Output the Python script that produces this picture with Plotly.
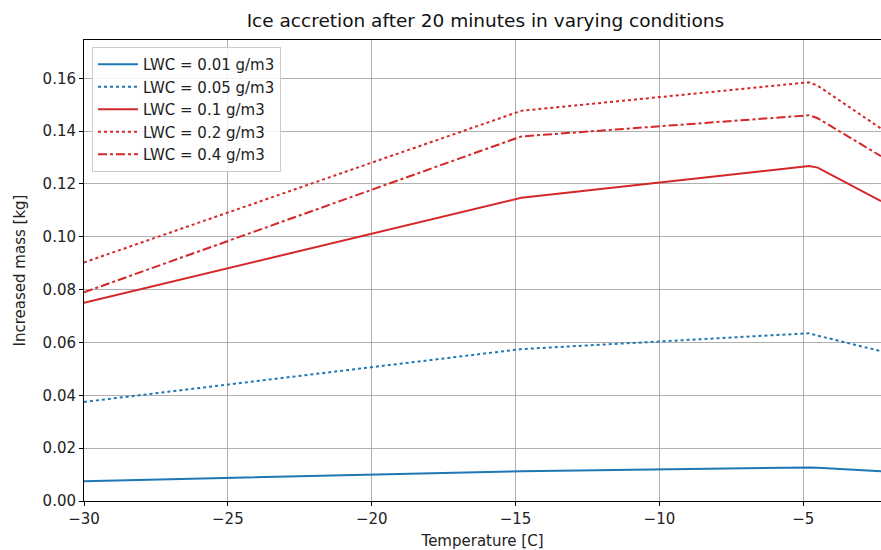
import plotly.graph_objects as go

temps = [-30, -14.8, -4.8, -4.5, -2.3]
lwc_labels = ["LWC = 0.01 g/m3", "LWC = 0.05 g/m3", "LWC = 0.1 g/m3", "LWC = 0.2 g/m3", "LWC = 0.4 g/m3"]
m_001 = [0.0075, 0.0113, 0.0127, 0.0126, 0.0113]
m_005 = [0.0375, 0.0575, 0.0635, 0.0626, 0.0567]
m_01 = [0.075, 0.1148, 0.1268, 0.1262, 0.1135]
m_02 = [0.0903, 0.1477, 0.1585, 0.1572, 0.1410]
m_04 = [0.0790, 0.1380, 0.1460, 0.1449, 0.1305]
x_ticks = [-30, -25, -20, -15, -10, -5]
y_ticks = [0.00, 0.02, 0.04, 0.06, 0.08, 0.10, 0.12, 0.14, 0.16]

BLUE = "#1f77b4"
RED = "#d62728"
series = [
    (m_001, BLUE, "solid"),
    (m_005, BLUE, "dot"),
    (m_01, RED, "solid"),
    (m_02, RED, "dot"),
    (m_04, RED, "dashdot"),
]

fig = go.Figure()
for (vals, col, dash), name in zip(series, lwc_labels):
    fig.add_trace(go.Scatter(x=temps, y=vals, mode="lines", name=name,
                             line=dict(color=col, dash=dash, width=2)))

font = "DejaVu Sans, sans-serif"
fig.update_layout(
    width=881, height=550,
    margin=dict(l=84, r=0, t=40, b=49),
    paper_bgcolor="white", plot_bgcolor="white",
    font=dict(family=font, size=15, color="#222"),
    title=dict(text="Ice accretion after 20 minutes in varying conditions",
               x=0.551, xanchor="center", y=0.962, yanchor="middle",
               font=dict(family=font, size=18.5, color="#111")),
    showlegend=True,
    legend=dict(x=0.01, y=0.985, xanchor="left", yanchor="top",
                bgcolor="rgba(255,255,255,0.85)", bordercolor="#cccccc", borderwidth=1,
                font=dict(family=font, size=15), tracegroupgap=0, itemwidth=40),
)
fig.update_xaxes(range=[-30, -2.3], tickvals=x_ticks, showgrid=True, gridcolor="#b0b0b0",
                 gridwidth=1, showline=True, linecolor="black", linewidth=1, mirror=True,
                 ticks="outside", ticklen=4, tickcolor="black", zeroline=False,
                 tickfont=dict(family=font, size=15),
                 title=dict(text="Temperature [C]", font=dict(family=font, size=15), standoff=9))
fig.update_yaxes(range=[0, 0.1745], tickvals=y_ticks, tickformat=".2f", showgrid=True,
                 gridcolor="#b0b0b0", gridwidth=1, showline=True, linecolor="black",
                 linewidth=1, mirror=True, ticks="outside", ticklen=4, tickcolor="black",
                 zeroline=False, tickfont=dict(family=font, size=15),
                 title=dict(text="Increased mass [kg]", font=dict(family=font, size=15), standoff=13))

fig.write_html("out.html", config={"displayModeBar": False},
               post_script="document.body.style.margin='0px';")
